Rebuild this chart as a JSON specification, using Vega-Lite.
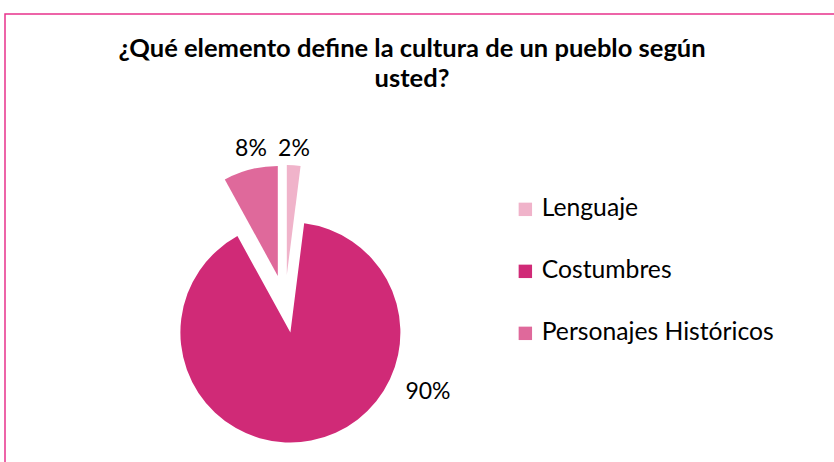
{
  "$schema": "https://vega.github.io/schema/vega-lite/v6.json",
  "autosize": {"type": "none"},
  "padding": {"left": 5, "top": 14, "right": 0, "bottom": 0},
  "width": 840,
  "height": 460,
  "background": "white",
  "title": {
    "text": ["¿Qué elemento define la cultura de un pueblo según", "usted?"],
    "font": "Lato",
    "fontSize": 25.5,
    "fontWeight": "bold",
    "color": "#000000",
    "anchor": "middle",
    "frame": "group",
    "dx": -13,
    "offset": -79,
    "lineHeight": 30
  },
  "data": {
    "values": [
      {"categoria": "Lenguaje", "porcentaje": 2, "orden": 1},
      {"categoria": "Costumbres", "porcentaje": 90, "orden": 2},
      {"categoria": "Personajes Históricos", "porcentaje": 8, "orden": 3}
    ]
  },
  "transform": [
    {"stack": "porcentaje", "groupby": [], "sort": [{"field": "orden"}], "as": ["t0", "t1"]}
  ],
  "encoding": {
    "theta": {"field": "t0", "type": "quantitative", "scale": {"domain": [0, 100]}},
    "theta2": {"field": "t1"},
    "color": {
      "field": "categoria",
      "type": "nominal",
      "scale": {
        "domain": ["Lenguaje", "Costumbres", "Personajes Históricos"],
        "range": ["#F0B3CA", "#D02A77", "#DF699B"]
      },
      "legend": {
        "orient": "none",
        "legendX": 508,
        "legendY": 183,
        "title": null,
        "symbolType": "square",
        "symbolSize": 180,
        "symbolStrokeWidth": 0,
        "labelFont": "Lato",
        "labelFontSize": 24.7,
        "labelColor": "#000000",
        "labelOffset": 4,
        "rowPadding": 36,
        "labelLimit": 400
      }
    }
  },
  "layer": [
    {
      "data": {"values": [{"marco": "borde"}]},
      "transform": [],
      "mark": {"type": "rect", "fill": null, "stroke": "#E8328C", "strokeWidth": 1.5},
      "encoding": {"theta": null, "theta2": null, "color": null}
    },
    {
      "transform": [{"filter": "datum.categoria === 'Lenguaje'"}],
      "mark": {"type": "arc", "outerRadius": 110, "xOffset": -138.2, "yOffset": 31.1}
    },
    {
      "transform": [{"filter": "datum.categoria === 'Costumbres'"}],
      "mark": {"type": "arc", "outerRadius": 110, "xOffset": -134.6, "yOffset": 88.5}
    },
    {
      "transform": [{"filter": "datum.categoria === 'Personajes Históricos'"}],
      "mark": {"type": "arc", "outerRadius": 110, "xOffset": -147.2, "yOffset": 31.9}
    },
    {
      "transform": [{"filter": "datum.categoria === 'Lenguaje'"}],
      "mark": {"type": "text", "xOffset": -131, "yOffset": -95, "font": "Lato", "fontSize": 23, "color": "#000000"},
      "encoding": {"theta": null, "theta2": null, "text": {"value": "2%"}, "color": {"value": "#000000"}}
    },
    {
      "transform": [{"filter": "datum.categoria === 'Personajes Históricos'"}],
      "mark": {"type": "text", "xOffset": -174, "yOffset": -95, "font": "Lato", "fontSize": 23, "color": "#000000"},
      "encoding": {"theta": null, "theta2": null, "text": {"value": "8%"}, "color": {"value": "#000000"}}
    },
    {
      "transform": [{"filter": "datum.categoria === 'Costumbres'"}],
      "mark": {"type": "text", "xOffset": 3, "yOffset": 148, "font": "Lato", "fontSize": 23, "color": "#000000"},
      "encoding": {"theta": null, "theta2": null, "text": {"value": "90%"}, "color": {"value": "#000000"}}
    }
  ]
}
